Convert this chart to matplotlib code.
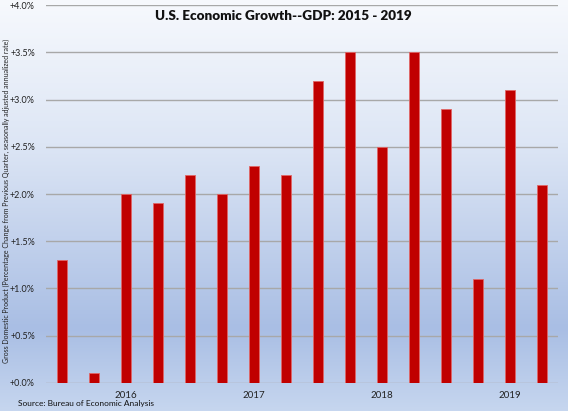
import matplotlib
matplotlib.use('Agg')
from matplotlib import pyplot as plt
from matplotlib.colors import LinearSegmentedColormap
import numpy as np

# quarterly GDP growth, 2015 Q3 .. 2019 Q2
quarters = ['2015Q3', '2015Q4', '2016Q1', '2016Q2', '2016Q3', '2016Q4',
            '2017Q1', '2017Q2', '2017Q3', '2017Q4', '2018Q1', '2018Q2',
            '2018Q3', '2018Q4', '2019Q1', '2019Q2']
growth = [1.3, 0.1, 2.0, 1.9, 2.2, 2.0, 2.3, 2.2, 3.2, 3.5, 2.5, 3.5, 2.9, 1.1, 3.1, 2.1]
year_labels = ['2016', '2017', '2018', '2019']
year_pos = ['2016Q1', '2017Q1', '2018Q1', '2019Q1']
y_ticks = [0.0, 0.5, 1.0, 1.5, 2.0, 2.5, 3.0, 3.5, 4.0]

plt.rcParams['font.family'] = ['Lato', 'DejaVu Sans']

fig = plt.figure(figsize=(5.68, 4.11), dpi=100)

# background gradient
bg = fig.add_axes([0, 0, 1, 1], zorder=0)
cmap = LinearSegmentedColormap.from_list('bg', [(0.0, '#f7f9fd'), (0.35, '#dde6f5'),
                                               (0.8, '#a9bee4'), (1.0, '#c6d6ef')])
grad = np.linspace(0, 1, 256).reshape(-1, 1)
bg.imshow(grad, aspect='auto', cmap=cmap, extent=[0, 1, 0, 1], origin='upper')
bg.axis('off')

ax = fig.add_axes([46/568, 1 - 382.7/411, 512/568, 377.4/411], zorder=1)
ax.patch.set_alpha(0)

x = np.arange(len(quarters))
ax.bar(x, growth, width=0.31, color='#c00000', edgecolor='#e06666', linewidth=0.6, zorder=3)

ax.set_xlim(-0.5, len(quarters) - 0.5)
ax.set_ylim(0, 4.0)
ax.set_yticks(y_ticks)
ax.set_yticklabels(['+%.1f%%' % v for v in y_ticks], fontsize=6.5, color='#222222')
ax.set_xticks([quarters.index(q) for q in year_pos])
ax.set_xticklabels(year_labels, fontsize=7, color='#222222')
ax.tick_params(axis='both', length=0, pad=6)
ax.tick_params(axis='y', pad=8)
ax.grid(axis='y', color='#a8a8a8', linewidth=1.0, zorder=0)
for s in ax.spines.values():
    s.set_visible(False)

fig.text(283/568, 1 - 16/411, 'U.S. Economic Growth--GDP: 2015 - 2019', ha='center', va='center',
         fontsize=9.7, fontweight='heavy', color='#111111')
fig.text(6/568, 1 - 201/411,
         'Gross Domestic Product (Percentage Change from Previous Quarter, seasonally adjusted annualized rate)',
         rotation=90, ha='center', va='center', fontsize=5.0, color='#222222')
fig.text(18/568, 1 - 403/411, 'Source: Bureau of Economic Analysis', ha='left', va='center',
         fontsize=6.0, color='#111111')

fig.savefig('out.png', dpi=100)
